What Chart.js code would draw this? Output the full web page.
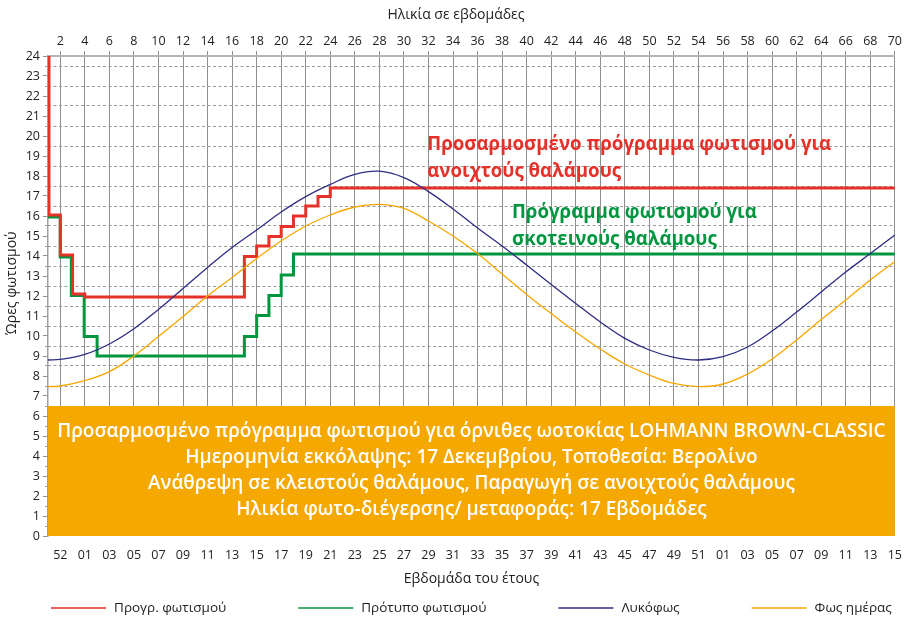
<!DOCTYPE html>
<html>
<head>
<meta charset="utf-8">
<script src="https://cdn.jsdelivr.net/npm/chart.js@4.4.1/dist/chart.umd.min.js"></script>
<style>
  html, body { margin: 0; padding: 0; background: #fff; }
  #wrap { width: 906px; height: 617px; position: relative; }
</style>
</head>
<body>
<div id="wrap"><canvas id="myChart" width="906" height="617"></canvas></div>
<script>
// age (weeks) ticks on top, week-of-year labels at the same spots on the bottom
var ageTicks = [2, 4, 6, 8, 10, 12, 14, 16, 18, 20, 22, 24, 26, 28, 30, 32, 34, 36, 38, 40, 42, 44, 46, 48, 50, 52, 54, 56, 58, 60, 62, 64, 66, 68, 70];
var weekLabels = ['52', '01', '03', '05', '07', '09', '11', '13', '15', '17', '19', '21', '23', '25', '27', '29', '31', '33', '35', '37', '39', '41', '43', '45', '47', '49', '51', '01', '03', '05', '07', '09', '11', '13', '15'];
var hourTicks = [0, 1, 2, 3, 4, 5, 6, 7, 8, 9, 10, 11, 12, 13, 14, 15, 16, 17, 18, 19, 20, 21, 22, 23, 24];

// twilight / daylight curves, read every 2 weeks
var curveAges = [1, 2, 4, 6, 8, 10, 12, 14, 16, 18, 20, 22, 24, 26, 28, 30, 32, 34, 36, 38, 40, 42, 44, 46, 48, 50, 52, 54, 56, 58, 60, 62, 64, 66, 68, 70];
var twilight = [8.8, 8.83, 9.08, 9.6, 10.36, 11.33, 12.38, 13.43, 14.43, 15.3, 16.2, 16.97, 17.58, 18.08, 18.24, 17.92, 17.22, 16.35, 15.4, 14.5, 13.55, 12.58, 11.63, 10.7, 9.88, 9.3, 8.93, 8.8, 8.97, 9.45, 10.25, 11.2, 12.2, 13.2, 14.12, 15.05];
var daylight = [7.47, 7.5, 7.77, 8.22, 9.0, 9.97, 10.97, 12.0, 12.93, 13.88, 14.75, 15.5, 16.05, 16.45, 16.58, 16.38, 15.75, 15.0, 14.12, 13.1, 12.08, 11.12, 10.2, 9.35, 8.6, 8.05, 7.63, 7.47, 7.6, 8.1, 8.85, 9.8, 10.82, 11.8, 12.8, 13.72];

// step programs: hours valid from the given age on
var programAges = [1.08, 1.08, 2, 3, 4, 17, 18, 19, 20, 21, 22, 23, 24, 70];
var programHours = [24, 16.05, 14.05, 12.1, 11.95, 13.97, 14.5, 14.97, 15.47, 16.0, 16.5, 16.97, 17.4, 17.4];
var standardAges = [1, 1, 2, 2.9, 3.95, 5, 17, 18, 19, 20, 21, 70];
var standardHours = [24, 15.95, 13.95, 12.02, 9.98, 9.0, 9.98, 11.03, 12.03, 13.05, 14.1, 14.1];

var boxTop = 6.5;
var boxLines = [
  'Προσαρμοσμένο πρόγραμμα φωτισμού για όρνιθες ωοτοκίας LOHMANN BROWN-CLASSIC',
  'Ημερομηνία εκκόλαψης: 17 Δεκεμβρίου, Τοποθεσία: Βερολίνο',
  'Ανάθρεψη σε κλειστούς θαλάμους, Παραγωγή σε ανοιχτούς θαλάμους',
  'Ηλικία φωτο-διέγερσης/ μεταφοράς: 17 Εβδομάδες'
];
var openNote = ['Προσαρμοσμένο πρόγραμμα φωτισμού για', 'ανοιχτούς θαλάμους'];
var openNoteAt = [31.9, 19.55];
var darkNote = ['Πρόγραμμα φωτισμού για', 'σκοτεινούς θαλάμους'];
var darkNoteAt = [38.8, 16.15];

var FONT = "'Open Sans', sans-serif";

function pts(xs, ys) {
  return xs.map(function (x, i) { return { x: x, y: ys[i] }; });
}

var extras = {
  id: 'extras',
  beforeDatasetsDraw: function (chart) {
    var ctx = chart.ctx, a = chart.chartArea, y = chart.scales.y;
    var top = y.getPixelForValue(boxTop), bottom = y.getPixelForValue(0);
    ctx.save();
    ctx.fillStyle = '#f5a800';
    ctx.fillRect(a.left, top, a.right - a.left, bottom - top);
    ctx.fillStyle = '#fff';
    ctx.font = '600 19px ' + FONT;
    ctx.textAlign = 'center';
    ctx.textBaseline = 'middle';
    var cx = (a.left + a.right) / 2;
    boxLines.forEach(function (t, i) {
      ctx.fillText(t, cx, top + 26 + i * 26);
    });
    ctx.restore();
  },
  afterDatasetsDraw: function (chart) {
    var ctx = chart.ctx, a = chart.chartArea, x = chart.scales.x, y = chart.scales.y;
    ctx.save();
    ctx.textBaseline = 'middle';
    ctx.textAlign = 'left';
    ctx.font = 'bold 18.7px ' + FONT;
    ctx.fillStyle = '#e5312a';
    openNote.forEach(function (t, i) {
      ctx.fillText(t, x.getPixelForValue(openNoteAt[0]), y.getPixelForValue(openNoteAt[1]) + i * 27);
    });
    ctx.fillStyle = '#009640';
    darkNote.forEach(function (t, i) {
      ctx.fillText(t, x.getPixelForValue(darkNoteAt[0]), y.getPixelForValue(darkNoteAt[1]) + i * 27);
    });

    // axis titles
    ctx.fillStyle = '#222';
    ctx.font = '14px ' + FONT;
    ctx.textAlign = 'center';
    ctx.fillText('Ηλικία σε εβδομάδες', 456, 15);
    ctx.save();
    ctx.translate(12, 283);
    ctx.rotate(-Math.PI / 2);
    ctx.fillText('Ώρες φωτισμού', 0, 0);
    ctx.restore();

    // legend
    var items = [0, 1, 2, 3].map(function (i) { return chart.data.datasets[i]; });
    ctx.font = '13.5px ' + FONT;
    var lineLen = 55, gap = 8, spacing = 72;
    var total = 0;
    items.forEach(function (d) { total += lineLen + gap + ctx.measureText(d.label).width; });
    total += spacing * (items.length - 1);
    var lx = (a.left + a.right) / 2 - total / 2, ly = 608;
    ctx.textAlign = 'left';
    items.forEach(function (d) {
      ctx.strokeStyle = d.borderColor;
      ctx.lineWidth = 1.5;
      ctx.beginPath();
      ctx.moveTo(lx, ly);
      ctx.lineTo(lx + lineLen, ly);
      ctx.stroke();
      ctx.fillStyle = '#222';
      ctx.fillText(d.label, lx + lineLen + gap, ly);
      lx += lineLen + gap + ctx.measureText(d.label).width + spacing;
    });
    ctx.restore();
  }
};

var chart = document.getElementById('myChart');
var myChart = new Chart(chart, {
  type: 'line',
  data: {
    datasets: [
      {
        label: 'Προγρ. φωτισμού',
        data: pts(programAges, programHours),
        borderColor: '#e5312a',
        borderWidth: 3,
        stepped: 'before',
        order: 2
      },
      {
        label: 'Πρότυπο φωτισμού',
        data: pts(standardAges, standardHours),
        borderColor: '#00963f',
        borderWidth: 3,
        stepped: 'before',
        order: 3
      },
      {
        label: 'Λυκόφως',
        data: pts(curveAges, twilight),
        borderColor: '#2e2d83',
        borderWidth: 1.3,
        tension: 0.4,
        order: 0
      },
      {
        label: 'Φως ημέρας',
        data: pts(curveAges, daylight),
        borderColor: '#f7a600',
        borderWidth: 1.3,
        tension: 0.4,
        order: 1
      }
    ]
  },
  options: {
    responsive: false,
    animation: false,
    events: [],
    layout: { padding: { top: 0, right: 11, bottom: 27, left: 0 } },
    elements: { point: { radius: 0 } },
    plugins: { legend: { display: false }, tooltip: { enabled: false } },
    scales: {
      x: {
        type: 'linear',
        position: 'top',
        min: 1,
        max: 70,
        afterBuildTicks: function (s) { s.ticks = ageTicks.map(function (v) { return { value: v }; }); },
        afterFit: function (s) { s.height = 56; },
        ticks: { color: '#222', font: { family: FONT, size: 12.5 }, padding: 2, autoSkip: false, maxRotation: 0 },
        grid: { color: '#8e8e8e', lineWidth: 1, tickLength: 5, tickColor: '#8e8e8e' },
        border: { color: '#b4b4b4', width: 2 }
      },
      x2: {
        type: 'linear',
        position: 'bottom',
        min: 1,
        max: 70,
        afterBuildTicks: function (s) { s.ticks = ageTicks.map(function (v) { return { value: v }; }); },
        afterFit: function (s) { s.height = 54; },
        ticks: {
          color: '#222', font: { family: FONT, size: 12.5 }, padding: 4, autoSkip: false, maxRotation: 0,
          callback: function (v, i) { return weekLabels[i]; }
        },
        grid: { display: false },
        border: { display: false },
        title: { display: true, text: 'Εβδομάδα του έτους', color: '#222', font: { family: FONT, size: 14 }, padding: { top: 6, bottom: 3 } }
      },
      y: {
        type: 'linear',
        position: 'left',
        weight: 1,
        min: 0,
        max: 24,
        afterBuildTicks: function (s) { s.ticks = hourTicks.map(function (v) { return { value: v }; }); },
        afterFit: function (s) { s.width = 48; },
        ticks: { color: '#222', font: { family: FONT, size: 12.5 }, padding: 3, autoSkip: false },
        grid: { drawOnChartArea: false, tickLength: 5, tickColor: '#8e8e8e' },
        border: { color: '#a0a0a0', width: 1.5 }
      },
      yg: {
        type: 'linear',
        position: 'left',
        weight: 0,
        min: 0,
        max: 24,
        afterBuildTicks: function (s) {
          s.ticks = hourTicks.slice(0, -1).map(function (v) { return { value: v + 0.5 }; });
        },
        afterFit: function (s) { s.width = 0; },
        ticks: { display: false },
        grid: { color: '#9a9a9a', lineWidth: 1, tickLength: 3, tickColor: '#9a9a9a' },
        border: { display: false, dash: [3, 2.5] }
      }
    }
  },
  plugins: [extras]
});
</script>
</body>
</html>
